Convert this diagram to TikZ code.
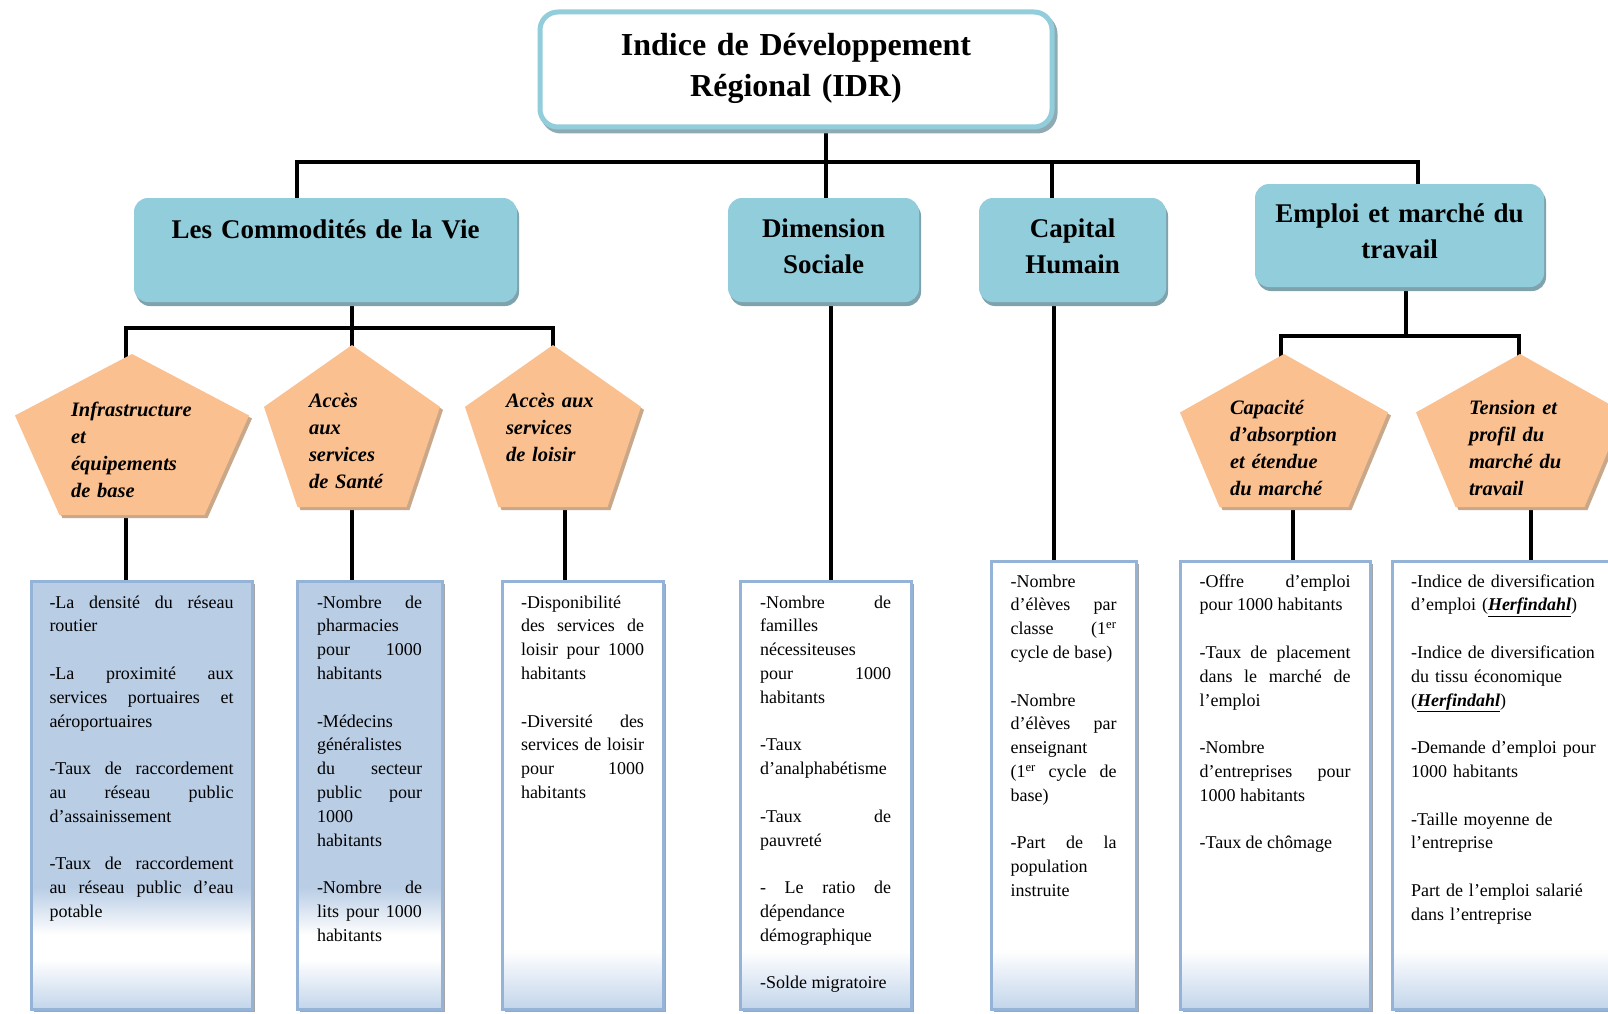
\documentclass[tikz,border=0pt]{standalone}
\usepackage{fontspec}
\setmainfont{Liberation Serif}
\usetikzlibrary{calc,backgrounds}
\definecolor{aqua}{HTML}{92CDDC}
\definecolor{aquashadow}{HTML}{7FA3AD}
\definecolor{topshadow}{HTML}{8FAAB3}
\definecolor{pentfill}{HTML}{FAC090}
\definecolor{pentshadow}{HTML}{C9A789}
\definecolor{boxborder}{HTML}{95B3D7}
\definecolor{boxblue}{HTML}{B9CDE5}
\definecolor{boxlight}{HTML}{C3D5EB}
\definecolor{boxshadow}{HTML}{A5A5A5}

\newcommand\gp{\par\vspace{23.8pt}}
\newcommand\hf{\underline{\textbf{\textit{Herfindahl}}}}

\newcommand\pentpath[1]{(#1.north) -- ($(#1.north east)!0.382!(#1.south east)$) -- ($(#1.south west)!0.81!(#1.south east)$) -- ($(#1.south west)!0.19!(#1.south east)$) -- ($(#1.north west)!0.382!(#1.south west)$) -- cycle}
\newcommand\pentbg[1]{%
  \fill[pentshadow, transform canvas={shift={(3,3)}}] \pentpath{#1};
  \fill[pentfill] \pentpath{#1};}
\newcommand\whitebg[1]{%
  \fill[boxshadow, transform canvas={shift={(3,3)}}] (#1.north west) rectangle (#1.south east);
  \fill[white] (#1.north west) rectangle (#1.south east);
  \shade[top color=white, bottom color=boxlight] (#1.west |- 0,950) rectangle (#1.south east);}
\newcommand\bluebg[1]{%
  \fill[boxshadow, transform canvas={shift={(3,3)}}] (#1.north west) rectangle (#1.south east);
  \fill[boxblue] (#1.north west) rectangle (#1.east |- 0,888);
  \shade[top color=boxblue, bottom color=white] (#1.west |- 0,887.5) rectangle (#1.east |- 0,935);
  \fill[white] (#1.west |- 0,934.5) rectangle (#1.east |- 0,960);
  \shade[top color=white, bottom color=boxlight] (#1.west |- 0,959.5) rectangle (#1.south east);}

\tikzset{
  conn/.style={line width=4pt, black},
  topbox/.style={draw=aqua, line width=5pt, fill=white, rounded corners=18pt, inner sep=0pt, outer sep=0pt,
    align=center, anchor=north west, font={\fontsize{32}{41}\selectfont\bfseries},
    preaction={draw=topshadow, fill=topshadow, line width=5pt, transform canvas={shift={(3,4)}}}},
  titlebox/.style={fill=aqua, rounded corners=14pt, inner sep=0pt, outer sep=0pt, align=center,
    anchor=north west, font={\fontsize{27}{36}\selectfont\bfseries},
    preaction={fill=aquashadow, transform canvas={shift={(2,4)}}}},
  pentnode/.style={inner sep=0pt, outer sep=0pt, align=left, anchor=north west,
    font={\fontsize{20.5}{27}\selectfont\bfseries\itshape}},
  listbox/.style={draw=boxborder, line width=3pt, inner sep=0pt, outer sep=0pt, anchor=north west,
    align=justify, font={\fontsize{18}{23.8}\selectfont},
    execute at begin node={\hyphenpenalty=10000 \exhyphenpenalty=10000 \tolerance=10000 \hbadness=10000}}
}

\begin{document}
\begin{tikzpicture}[x=1pt,y=-1pt]
\useasboundingbox (0,0) rectangle (1608,1014);

% title boxes
\node[topbox, text width=512, text height=44, text depth=71] (top) at (540,12)
  {Indice de Développement\\Régional (IDR)};
\node[titlebox, text width=383, text height=40, text depth=64] (comm) at (134,198)
  {Les Commodités de la Vie};
\node[titlebox, text width=191, text height=39, text depth=65] (ds) at (728,198)
  {Dimension\\Sociale};
\node[titlebox, text width=187, text height=39, text depth=65] (ch) at (979,198)
  {Capital\\Humain};
\node[titlebox, text width=289, text height=38, text depth=65] (emp) at (1255,184)
  {Emploi et marché du\\travail};

% pentagons
\node[pentnode, minimum width=234, text width=122, text height=62, text depth=99] (p1) at (15,354)
  {Infrastructure\\et\\équipements\\de base};
\node[pentnode, minimum width=176, text width=86, text height=62, text depth=100] (p2) at (264,345)
  {Accès\\aux\\services\\de Santé};
\node[pentnode, minimum width=176, text width=94, text height=62, text depth=100] (p3) at (465,345)
  {Accès aux\\services\\de loisir};
\node[pentnode, minimum width=208, text width=108, text height=60, text depth=93] (p4) at (1180,354)
  {Capacité\\d’absorption\\et étendue\\du marché};
\node[pentnode, minimum width=208, text width=102, text height=60, text depth=93] (p5) at (1416,354)
  {Tension et\\profil du\\marché du\\travail};

% indicator boxes
\node[listbox, minimum width=221, text width=184, text height=27, text depth=401] (b1) at (31,581)
  {-La densité du réseau\linebreak routier\gp
   -La proximité aux\linebreak services portuaires et\linebreak aéroportuaires\gp
   -Taux de raccordement\linebreak au réseau public\linebreak d’assainissement\gp
   -Taux de raccordement\linebreak au réseau public d'eau\linebreak potable};
\node[listbox, minimum width=145, text width=105, text height=27, text depth=401] (b2) at (297,581)
  {-Nombre de\linebreak pharmacies\\ pour 1000\linebreak habitants\gp
   -Médecins\\ généralistes\\ du secteur\linebreak public pour\linebreak 1000\\ habitants\gp
   -Nombre de\linebreak lits pour 1000\linebreak habitants};
\node[listbox, minimum width=161, text width=123, text height=27, text depth=401] (b3) at (502,581)
  {-Disponibilité\\ des services de\linebreak loisir pour 1000\linebreak habitants\gp
   -Diversité des\linebreak services de loisir\linebreak pour 1000\linebreak habitants};
\node[listbox, minimum width=171, text width=131, text height=27, text depth=401] (b4) at (740,581)
  {-Nombre de\linebreak familles\\ nécessiteuses\\ pour 1000\linebreak habitants\gp
   -Taux\\ d’analphabétisme\gp
   -Taux de\linebreak pauvreté\gp
   - Le ratio de\linebreak dépendance\\ démographique\gp
   -Solde migratoire};
\node[listbox, minimum width=145, text width=106, text height=26, text depth=422] (b5) at (991,561)
  {-Nombre\\ d’élèves par\linebreak classe (1\textsuperscript{er}\linebreak cycle de base)\gp
   -Nombre\\ d’élèves par\linebreak enseignant\\ (1\textsuperscript{er} cycle de\linebreak base)\gp
   -Part de la\linebreak population\\ instruite};
\node[listbox, minimum width=190, text width=151, text height=26, text depth=422] (b6) at (1180,561)
  {-Offre d’emploi\linebreak pour 1000 habitants\gp
   -Taux de placement\linebreak dans le marché de\linebreak l’emploi\gp
   -Nombre\\ d’entreprises pour\linebreak 1000 habitants\gp
   -Taux de chômage};
\node[listbox, align=left, minimum width=228, text width=190, text height=26, text depth=422] (b7) at (1392,561)
  {-Indice de diversification\\ d’emploi (\hf)\gp
   -Indice de diversification\\ du tissu économique\\ (\hf)\gp
   -Demande d’emploi pour\\ 1000 habitants\gp
   -Taille moyenne de\\ l’entreprise\gp
   Part de l’emploi salarié\\ dans l’entreprise};

% junction coordinates
\coordinate (j0) at (826,162);
\coordinate (barL) at (297,162);
\coordinate (barR) at (1418,162);
\coordinate (j1) at (1052,162);
\coordinate (k1) at (126,328);
\coordinate (k2) at (352,328);
\coordinate (k3) at (553,328);
\coordinate (m3) at (565,0);
\coordinate (m4) at (831,0);
\coordinate (m5) at (1054,0);
\coordinate (e0) at (1406,336);
\coordinate (e1) at (1281,336);
\coordinate (e2) at (1519,336);
\coordinate (m6) at (1293,0);
\coordinate (m7) at (1531,0);

\begin{pgfonlayer}{background}
  \fill[white] (0,0) rectangle (1608,1014);
  \bluebg{b1}
  \bluebg{b2}
  \whitebg{b3}
  \whitebg{b4}
  \whitebg{b5}
  \whitebg{b6}
  \whitebg{b7}
  % connectors
  \draw[conn] (top.south -| j0) -- (j0);
  \draw[conn] (barL |- comm.north) -- (barL) -- (barR) -- (barR |- emp.north);
  \draw[conn] (j0) -- (j0 |- ds.north);
  \draw[conn] (j1) -- (j1 |- ch.north);
  \draw[conn] (k1 |- p1.center) -- (k1) -- (k3) -- (k3 |- p3.center);
  \draw[conn] (k2 |- comm.south) -- (k2 |- b2.north);
  \draw[conn] (k1) -- (k1 |- b1.north);
  \draw[conn] (m3 |- p3.center) -- (m3 |- b3.north);
  \draw[conn] (m4 |- ds.south) -- (m4 |- b4.north);
  \draw[conn] (m5 |- ch.south) -- (m5 |- b5.north);
  \draw[conn] (e0 |- emp.south) -- (e0);
  \draw[conn] (e1 |- p4.center) -- (e1) -- (e2) -- (e2 |- p5.center);
  \draw[conn] (m6 |- p4.center) -- (m6 |- b6.north);
  \draw[conn] (m7 |- p5.center) -- (m7 |- b7.north);
  % pentagons
  \pentbg{p1}
  \pentbg{p2}
  \pentbg{p3}
  \pentbg{p4}
  \pentbg{p5}
\end{pgfonlayer}
\end{tikzpicture}
\end{document}
